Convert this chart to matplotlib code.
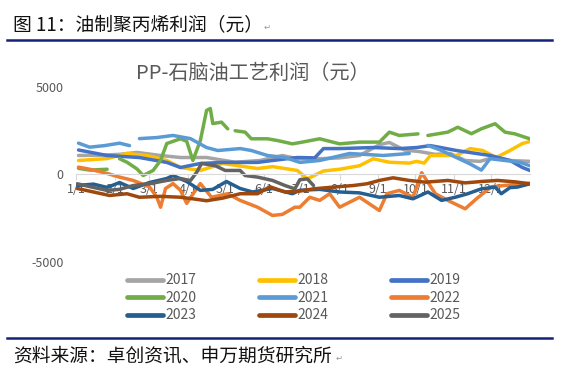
import numpy as np
import matplotlib.pyplot as plt
from matplotlib.lines import Line2D

plt.rcParams['font.family'] = ['Noto Sans CJK SC', 'DejaVu Sans']

# day of year (1/1 = 0) and profit in yuan; nan = gap
d2017 = [2, 19, 35, 49, 68, 84, 105, 128, 148, 166, 178, 196, 212, 228, 244, 252, 264, 277, 289, 301, 313, 325, 337, 349, 365]
v2017 = [1085, 1100, 1150, 1260, 1085, 970, 970, 700, 800, 1085, 900, 900, 950, 1085, 1700, 1830, 1400, 1300, 1150, 1200, 800, 750, 1000, 800, 750]

d2018 = [2, 25, 41, 57, 73, 84, 100, 118, 146, 158, 178, 186, 199, 212, 228, 239, 252, 268, 274, 280, 285, 306, 317, 327, 338, 349, 359, 365]
v2018 = [800, 910, 1200, 1085, 800, 400, 230, 630, 340, 450, 230, -250, 200, 300, 500, 900, 700, 650, 750, 650, 1085, 1085, 1480, 1370, 970, 1370, 1770, 1880]

d2019 = [2, 25, 51, 73, 84, 100, 118, 146, 158, 178, 192, 199, 212, 239, 260, 274, 285, 306, 333, 349, 359, 365]
v2019 = [1400, 1085, 970, 690, 400, 630, 690, 690, 800, 970, 950, 1480, 1480, 1540, 1480, 1540, 1650, 1370, 1085, 800, 400, 230]

d2020 = [2, 11, 25, 31, 35, 41, 49, 54, 62, 68, 73, 84, 89, 94, 100, 105, 108, 110, 117, 122, 125,
         128, 136, 141, 154, 162, 174, 182, 196, 212, 228, 244, 252, 260, 275, 280,
         283, 299, 307, 318, 326, 337, 345, 353, 361, 365]
v2020 = [350, 250, 300, np.nan, 900, 700, 320, -60, 230, 800, 1770, 2040, 1900, 800, 1940, 3660, 3770, 2910, 2990, 2610, np.nan,
         2500, 2420, 2040, 2040, 1940, 1750, 1850, 2040, 1750, 1850, 1850, 2420, 2230, 2320, np.nan,
         2230, 2420, 2700, 2330, 2610, 2900, 2420, 2320, 2130, 2040]

d2021 = [2, 11, 23, 35, 43, 46, 51, 65, 78, 92, 105, 114, 132, 141, 154, 168, 180, 196, 220, 247, 268, 278,
         283, 293, 305, 317, 326, 333, 345, 357, 365]
v2021 = [1790, 1560, 1650, 1790, 1650, np.nan, 2050, 2110, 2230, 2050, 1540, 1370, 1480, 1370, 1085, 970, 690, 800, 1200, 1085, 1200, np.nan,
         1660, 1400, 1000, 600, 250, 900, 800, 700, 500]

d2022 = [2, 11, 25, 35, 46, 59, 65, 68, 72, 78, 84, 89, 96, 100, 109, 122, 132, 146, 158, 166, 176, 180,
         188, 196, 204, 212, 228, 244, 250, 260, 271, 278, 289, 299, 313, 322, 334, 349, 365]
v2022 = [420, 300, 60, -150, -340, -700, -1300, -1870, -800, -520, -900, -1650, -910, -520, -1300, -1100, -1480, -1870, -2340, -2280, -1870, -1870,
         -1300, -1480, -1100, -1870, -1300, -2060, -1100, -910, -1300, 100, -1100, -1480, -1960, -1390, -700, -600, -500]

d2023 = [1, 14, 25, 35, 46, 59, 73, 78, 89, 100, 110, 121, 132, 142, 158, 174, 180, 196, 212, 228, 244, 260, 271,
         283, 294, 305, 315, 326, 337, 342, 349, 355, 365]
v2023 = [-630, -550, -740, -460, -800, -460, -230, -60, -400, -910, -850, -400, -800, -1000, -800, -1100, -900, -850, -1000, -1050, -1300, -1200, -1390,
         -1000, -1480, -1300, -1100, -820, -720, -1100, -750, -720, -530]

d2024 = [1, 14, 27, 41, 51, 68, 84, 94, 105, 118, 132, 146, 156, 168, 180, 191, 207, 223, 234, 244, 255, 268, 281, 299, 313, 326, 339, 353, 365]
v2024 = [-800, -1000, -1200, -1100, -1300, -1250, -1300, -1390, -1500, -1350, -1100, -1100, -700, -1000, -950, -820, -720, -630, -530, -340, -190, -340, -440, -340, -480, -400, -340, -420, -530]

d2025 = [1, 14, 25, 35, 46, 59, 73, 84, 92, 97, 101, 112, 120, 132, 136, 146, 158, 168, 176, 180, 186, 191]
v2025 = [-530, -740, -910, -850, -630, -530, -340, -230, -350, 120, 630, 500, 230, 230, -60, -150, -340, -630, -820, -300, -250, -630]

years = ['2017', '2018', '2019', '2020', '2021', '2022', '2023', '2024', '2025']
days = [d2017, d2018, d2019, d2020, d2021, d2022, d2023, d2024, d2025]
vals = [v2017, v2018, v2019, v2020, v2021, v2022, v2023, v2024, v2025]
colors = ['#A5A5A5', '#FFC000', '#4472C4', '#70AD47', '#5B9BD5', '#ED7D31', '#255E91', '#9E480E', '#636363']

month_days = [0, 31, 59, 90, 120, 151, 181, 212, 243, 273, 304, 334]
month_labels = ['%d/1' % m for m in range(1, 13)]

fig = plt.figure(figsize=(5.61, 3.89), dpi=100)
ax = fig.add_axes([0.1355, 0.3265, 0.809, 0.4499])

handles = []
for d, v, c, y in zip(days, vals, colors, years):
    h, = ax.plot(d, v, color=c, lw=2.5, label=y, solid_capstyle='round')
    handles.append(h)

ax.set_xlim(0, 365)
ax.set_ylim(-5000, 5000)
ax.set_yticks([-5000, 0, 5000])
ax.set_yticklabels(['-5000', '0', '5000'])
ax.set_xticks(month_days)
ax.set_xticklabels(month_labels)

for s in ['top', 'right', 'left']:
    ax.spines[s].set_visible(False)
ax.spines['bottom'].set_position(('data', 0))
ax.spines['bottom'].set_color('#D9D9D9')
ax.spines['bottom'].set_linewidth(0.8)
ax.tick_params(axis='x', length=4, color='#D9D9D9', labelcolor='#595959', labelsize=9, pad=2)
ax.tick_params(axis='y', length=0, labelcolor='#595959', labelsize=9, pad=9)

# legend filled row by row like the original
order = [0, 3, 6, 1, 4, 7, 2, 5, 8]
leg = fig.legend([handles[i] for i in order], [years[i] for i in order], ncol=3,
                 loc='upper left', bbox_to_anchor=(0.227, 0.297), frameon=False,
                 fontsize=10, handlelength=2.6, handletextpad=0.12, columnspacing=4.55,
                 labelspacing=0.25, borderpad=0, borderaxespad=0)
for t in leg.get_texts():
    t.set_color('#595959')
for l in leg.get_lines():
    l.set_linewidth(3.4)

fig.text(0.451, 0.812, 'PP-石脑油工艺利润（元）', ha='center', va='center', fontsize=14.5, color='#595959')

# document header / footer
fig.text(0.023, 0.936, '图 11：油制聚丙烯利润（元）', ha='left', va='center', fontsize=13.5, color='#111111')
fig.text(0.470, 0.930, '↵', ha='left', va='center', fontsize=6, color='#999999')
fig.add_artist(Line2D([0.0125, 0.984], [0.897, 0.897], color='#14237A', lw=1.8))
fig.add_artist(Line2D([0.0125, 0.984], [0.131, 0.131], color='#14237A', lw=1.8))
fig.text(0.023, 0.085, '资料来源：卓创资讯、申万期货研究所', ha='left', va='center', fontsize=13.5, color='#111111')
fig.text(0.598, 0.080, '↵', ha='left', va='center', fontsize=6, color='#999999')

fig.savefig('out.png', dpi=100)
